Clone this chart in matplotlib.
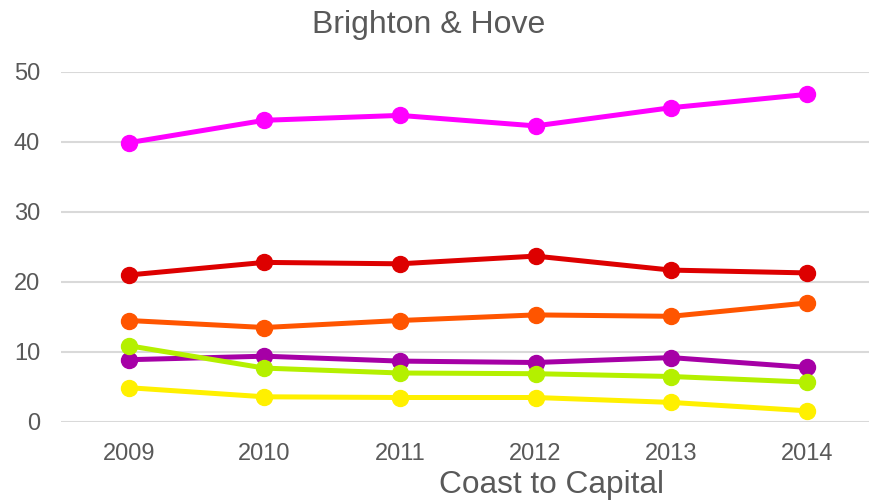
import matplotlib
matplotlib.use("Agg")
import matplotlib.pyplot as plt

plt.rcParams['font.family'] = ['Liberation Sans', 'DejaVu Sans']

years = ['2009', '2010', '2011', '2012', '2013', '2014']

# one list per line, top to bottom as they sit in the chart
magenta = [39.9, 43.1, 43.8, 42.3, 44.9, 46.8]
red = [21.0, 22.8, 22.6, 23.7, 21.7, 21.3]
orange = [14.5, 13.5, 14.5, 15.3, 15.1, 17.0]
purple = [8.9, 9.4, 8.7, 8.5, 9.2, 7.8]
green = [10.9, 7.7, 7.0, 6.9, 6.5, 5.7]
yellow = [4.9, 3.6, 3.5, 3.5, 2.8, 1.6]

series = [
    (magenta, '#ff00ff'),
    (red, '#dd0000'),
    (orange, '#ff5500'),
    (purple, '#a600a6'),
    (green, '#b4f000'),
    (yellow, '#fff000'),
]

grey = '#595959'

fig = plt.figure(figsize=(8.7, 5.03), dpi=100)
ax = fig.add_axes([61 / 870, 81 / 503, 813.5 / 870, 350 / 503])

x = list(range(len(years)))
for vals, col in series:
    ax.plot(x, vals, color=col, linewidth=3.6, marker='o', markersize=11.5,
            solid_capstyle='round', clip_on=False, zorder=3)

ax.set_xlim(-0.5, len(years) - 0.5)
ax.set_ylim(0, 50)
ax.set_yticks([0, 10, 20, 30, 40, 50])
ax.set_xticks(x)
ax.set_xticklabels(years)
ax.grid(axis='y', color='#d9d9d9', linewidth=1.5)
ax.set_axisbelow(True)
for s in ax.spines.values():
    s.set_visible(False)
ax.tick_params(axis='both', length=0, colors=grey, labelsize=17)
ax.tick_params(axis='y', pad=15)
ax.tick_params(axis='x', pad=15)

fig.text(0.493, 470 / 503, 'Brighton & Hove', ha='center', va='baseline',
         fontsize=23, color=grey)
fig.text(0.634, 10 / 503, 'Coast to Capital', ha='center', va='baseline',
         fontsize=22.8, color=grey)

fig.savefig('out.png', dpi=100, facecolor='white')
